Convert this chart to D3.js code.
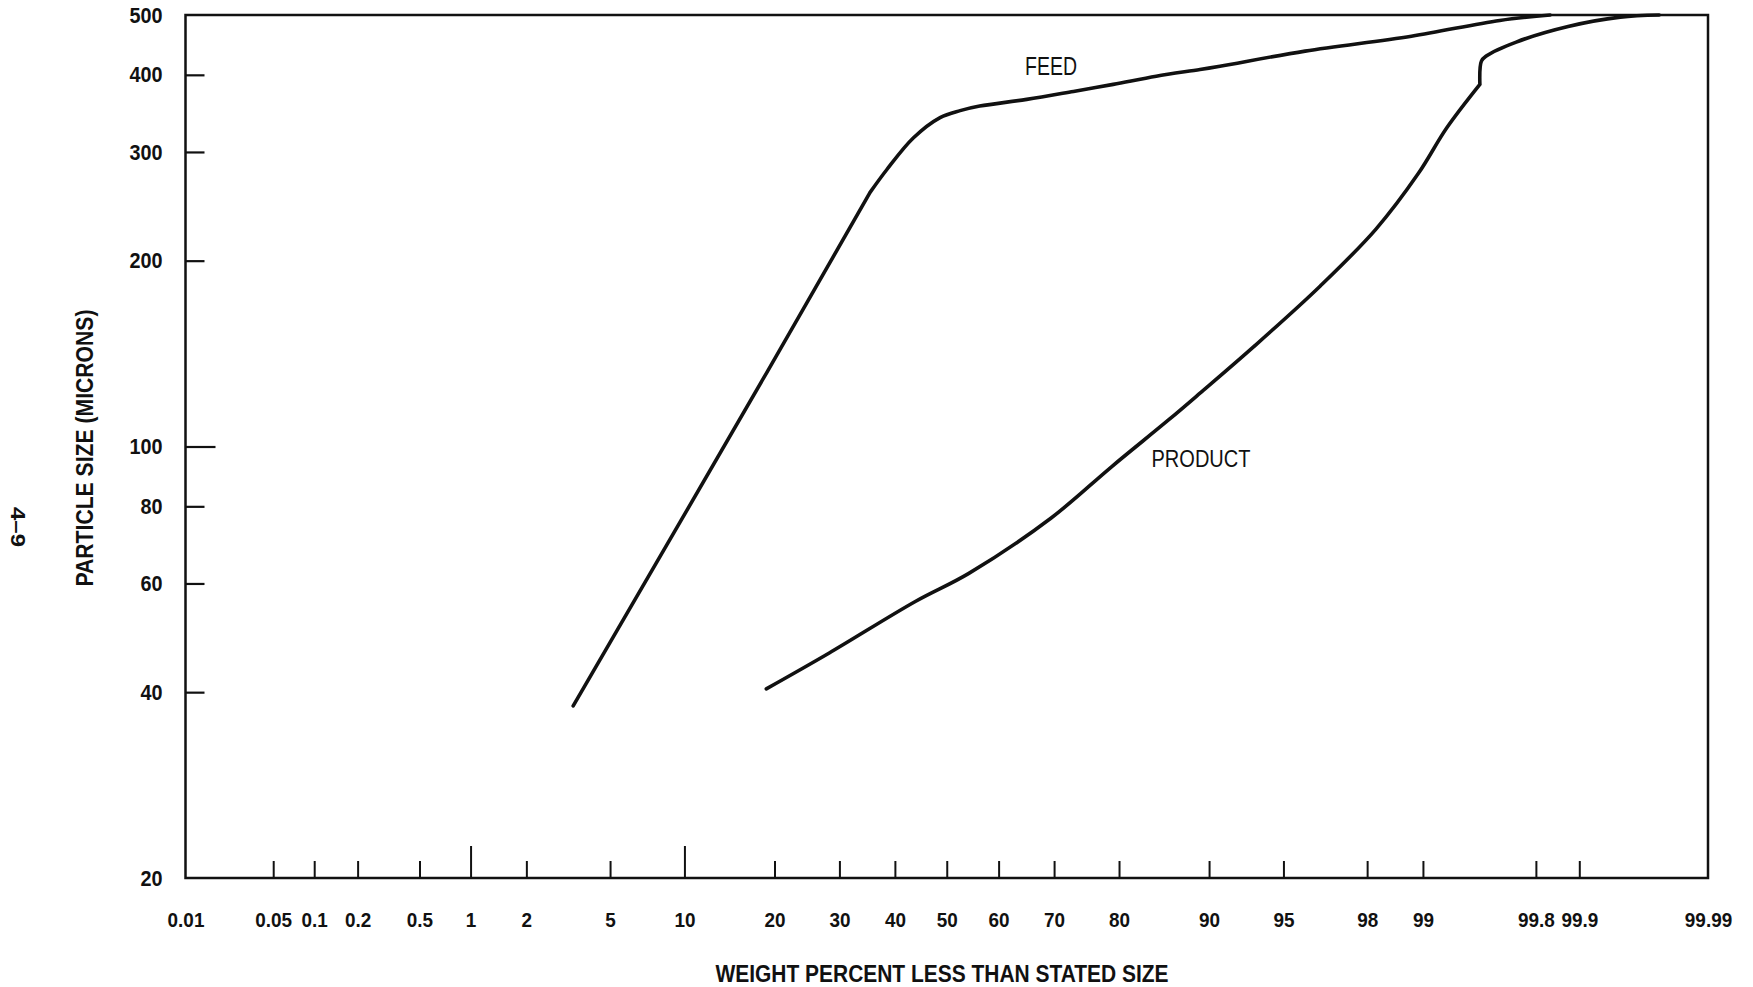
<!DOCTYPE html>
<html>
<head>
<meta charset="utf-8">
<script src="https://cdn.jsdelivr.net/npm/d3@7"></script>
<style>
  html, body { margin: 0; padding: 0; background: #fff; }
  svg text { font-family: "Liberation Sans", Arial, Helvetica, sans-serif; fill: #111; }
</style>
</head>
<body>
<svg id="chart" width="1753" height="987"></svg>
<script>
// Probability-scale tick marks (weight percent) and log-scale ticks (microns)
const percentTicks = [0.01, 0.05, 0.1, 0.2, 0.5, 1, 2, 5, 10, 20, 30, 40, 50, 60, 70, 80, 90, 95, 98, 99, 99.8, 99.9, 99.99];
const percentLongTicks = [1, 10];
const micronTicks = [20, 40, 60, 80, 100, 200, 300, 400, 500];
const micronLongTicks = [100];

// FEED size distribution: cumulative weight percent vs particle size
const feedPercent = [3.4, 19.0, 35.4, 38.5, 43.5, 48.7, 52.6, 56.4, 65.2, 73.2, 79.2, 84.7, 89.2, 90.9, 96.0, 98.84, 99.655, 99.84];
const feedMicrons = [38, 132, 258, 281, 316, 341, 350, 356, 365, 376, 386, 398, 408, 413, 437, 462, 490, 500];
const feedCorners = [2];          // index of points where the curve has a sharp bend

// PRODUCT size distribution
const productPercent = [18.9, 28.3, 43.9, 54.3, 69.5, 79.0, 86.1, 89.2, 93.3, 96.6, 98.2, 98.94, 99.27, 99.54, 99.55, 99.58, 99.73, 99.88, 99.95, 99.975];
const productMicrons = [40.5, 46.3, 56.1, 62.3, 76.6, 92.8, 110.5, 122, 145, 182, 225, 277, 328, 386, 421, 429, 452, 479, 496, 500];
const productCorners = [13];

// Inverse of the standard normal CDF (Acklam's rational approximation)
function probit(p) {
  const a = [-3.969683028665376e+01, 2.209460984245205e+02, -2.759285104469687e+02, 1.383577518672690e+02, -3.066479806614716e+01, 2.506628277459239e+00];
  const b = [-5.447609879822406e+01, 1.615858368580409e+02, -1.556989798598866e+02, 6.680131188771972e+01, -1.328068155288572e+01];
  const c = [-7.784894002430293e-03, -3.223964580411365e-01, -2.400758277161838e+00, -2.549732539343734e+00, 4.374664141464968e+00, 2.938163982698783e+00];
  const d = [7.784695709041462e-03, 3.224671290700398e-01, 2.445134137142996e+00, 3.754408661907416e+00];
  const pLow = 0.02425, pHigh = 1 - pLow;
  let q, r;
  if (p < pLow) {
    q = Math.sqrt(-2 * Math.log(p));
    return (((((c[0]*q + c[1])*q + c[2])*q + c[3])*q + c[4])*q + c[5]) / ((((d[0]*q + d[1])*q + d[2])*q + d[3])*q + 1);
  } else if (p <= pHigh) {
    q = p - 0.5; r = q * q;
    return (((((a[0]*r + a[1])*r + a[2])*r + a[3])*r + a[4])*r + a[5]) * q / (((((b[0]*r + b[1])*r + b[2])*r + b[3])*r + b[4])*r + 1);
  } else {
    q = Math.sqrt(-2 * Math.log(1 - p));
    return -(((((c[0]*q + c[1])*q + c[2])*q + c[3])*q + c[4])*q + c[5]) / ((((d[0]*q + d[1])*q + d[2])*q + d[3])*q + 1);
  }
}
const zOf = pct => probit(pct / 100);

// Squeeze text horizontally to imitate a condensed typeface
function condense(sel, factor) {
  sel.each(function () {
    const len = this.getComputedTextLength();
    d3.select(this).attr("textLength", len * factor).attr("lengthAdjust", "spacingAndGlyphs");
  });
}

const plot = { left: 185.5, right: 1708, top: 15, bottom: 878 };
const svg = d3.select("#chart");

const x = d3.scaleLinear().domain([zOf(0.01), zOf(99.99)]).range([plot.left, plot.right]);
const y = d3.scaleLog().domain([20, 500]).range([plot.bottom, plot.top]);

// Bottom axis (probability scale): ticks point into the plot
const pctLabel = new Map(percentTicks.map(p => [zOf(p), String(p)]));
const xAxis = d3.axisBottom(x)
  .tickValues(percentTicks.map(zOf))
  .tickFormat(z => pctLabel.get(z))
  .tickSize(-17)
  .tickPadding(34);
const gx = svg.append("g").attr("transform", `translate(0,${plot.bottom})`).call(xAxis);
gx.select(".domain").remove();
gx.selectAll(".tick line")
  .attr("stroke", "#111").attr("stroke-width", 2)
  .attr("y2", z => percentLongTicks.includes(+pctLabel.get(z)) ? -32 : -17)
  .attr("display", z => (z === zOf(0.01) || z === zOf(99.99)) ? "none" : null);
gx.selectAll(".tick text").attr("font-size", 21).attr("font-weight", "bold").attr("fill", "#111")
  .call(condense, 0.9);

// Left axis (log scale)
const yAxis = d3.axisLeft(y)
  .tickValues(micronTicks)
  .tickFormat(d3.format("d"))
  .tickSize(-19)
  .tickPadding(23);
const gy = svg.append("g").attr("transform", `translate(${plot.left},0)`).call(yAxis);
gy.select(".domain").remove();
gy.selectAll(".tick line")
  .attr("stroke", "#111").attr("stroke-width", 2.2)
  .attr("x2", d => micronLongTicks.includes(d) ? 30 : 19)
  .attr("display", d => (d === 20 || d === 500) ? "none" : null);
gy.selectAll(".tick text").attr("font-size", 22).attr("font-weight", "bold").attr("fill", "#111")
  .call(condense, 0.9);

// Plot frame
svg.append("rect")
  .attr("x", plot.left).attr("y", plot.top)
  .attr("width", plot.right - plot.left).attr("height", plot.bottom - plot.top)
  .attr("fill", "none").attr("stroke", "#111").attr("stroke-width", 2.5);

// Distribution curves: smooth between sharp bends, each piece through its points
const line = d3.line()
  .x(d => x(zOf(d[0])))
  .y(d => y(d[1]))
  .curve(d3.curveCatmullRom.alpha(0.5));

function piecewisePath(pct, um, corners) {
  const pts = pct.map((p, i) => [p, um[i]]);
  const cuts = [0, ...corners, pts.length - 1];
  return d3.pairs(cuts).map(([a, b]) => line(pts.slice(a, b + 1))).join("");
}

const series = [
  { name: "FEED", pct: feedPercent, um: feedMicrons, corners: feedCorners },
  { name: "PRODUCT", pct: productPercent, um: productMicrons, corners: productCorners }
];
svg.append("g").selectAll("path")
  .data(series)
  .join("path")
  .attr("d", s => piecewisePath(s.pct, s.um, s.corners))
  .attr("fill", "none")
  .attr("stroke", "#111")
  .attr("stroke-width", 3.6)
  .attr("stroke-linejoin", "round")
  .attr("stroke-linecap", "round");

// Curve labels
svg.append("text").attr("x", 1051).attr("y", 75).attr("text-anchor", "middle")
  .attr("font-size", 25).attr("textLength", 52).attr("lengthAdjust", "spacingAndGlyphs").text("FEED");
svg.append("text").attr("x", 1201).attr("y", 467).attr("text-anchor", "middle")
  .attr("font-size", 23).attr("textLength", 99).attr("lengthAdjust", "spacingAndGlyphs").text("PRODUCT");

// Axis titles
svg.append("text").attr("x", 942).attr("y", 982).attr("text-anchor", "middle")
  .attr("font-size", 24).attr("font-weight", "bold")
  .attr("textLength", 453).attr("lengthAdjust", "spacingAndGlyphs")
  .text("WEIGHT PERCENT LESS THAN STATED SIZE");
svg.append("text").attr("transform", "translate(93,448) rotate(-90)").attr("text-anchor", "middle")
  .attr("font-size", 24).attr("font-weight", "bold")
  .attr("textLength", 277).attr("lengthAdjust", "spacingAndGlyphs")
  .text("PARTICLE SIZE (MICRONS)");

// Page number in the margin
svg.append("text").attr("transform", "translate(11,527) rotate(90)").attr("text-anchor", "middle")
  .attr("font-size", 21).attr("font-weight", "bold")
  .attr("textLength", 40).attr("lengthAdjust", "spacingAndGlyphs").text("4–9");
</script>
</body>
</html>
